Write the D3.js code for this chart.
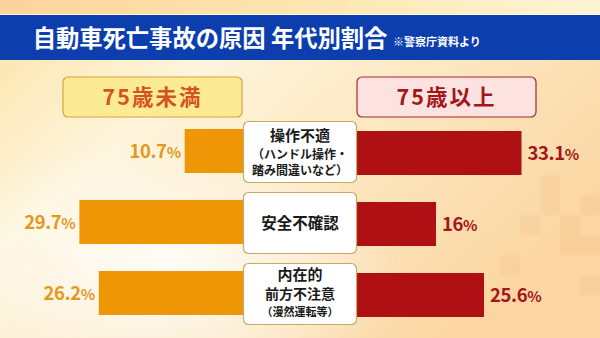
<!DOCTYPE html>
<html><head><meta charset="utf-8">
<script src="https://cdn.jsdelivr.net/npm/d3@7"></script>
<style>html,body{margin:0;padding:0;overflow:hidden;background:#fdeccb}</style>
</head><body>
<script>
const title = "自動車死亡事故の原因 年代別割合";
const source = "※警察庁資料より";
const groups = ["75歳未満", "75歳以上"];
const categories = [
  ["操作不適", "（ハンドル操作・", "踏み間違いなど）"],
  ["安全不確認"],
  ["内在的", "前方不注意", "（漫然運転等）"]
];
const under75 = [10.7, 29.7, 26.2];
const over75 = [33.1, 16, 25.6];
const under75Labels = ["10.7", "29.7", "26.2"];
const over75Labels = ["33.1", "16", "25.6"];

const W = 600, H = 338;
const svg = d3.select("body").append("svg").attr("width", W).attr("height", H);
const defs = svg.append("defs");
const FONT = "'Noto Sans CJK JP','Noto Sans',sans-serif";

// background
const bg = defs.append("linearGradient").attr("id","bg").attr("x1","0").attr("y1","0").attr("x2","1").attr("y2","0.6");
bg.append("stop").attr("offset","0").attr("stop-color","#fbe3a6");
bg.append("stop").attr("offset","0.33").attr("stop-color","#fef5dc");
bg.append("stop").attr("offset","0.6").attr("stop-color","#fce9c4");
bg.append("stop").attr("offset","1").attr("stop-color","#fbd6a2");
svg.append("rect").attr("width",W).attr("height",H).attr("fill","url(#bg)");
const rg = defs.append("radialGradient").attr("id","glow").attr("cx","0.28").attr("cy","0.8").attr("r","0.4");
rg.append("stop").attr("offset","0").attr("stop-color","#ffffff").attr("stop-opacity",0.9);
rg.append("stop").attr("offset","1").attr("stop-color","#ffffff").attr("stop-opacity",0);
svg.append("rect").attr("width",W).attr("height",H).attr("fill","url(#glow)");
// top strip
const tg = defs.append("linearGradient").attr("id","top").attr("x1","0").attr("x2","1");
tg.append("stop").attr("offset","0").attr("stop-color","#fdd29c");
tg.append("stop").attr("offset","0.5").attr("stop-color","#fde6b0");
tg.append("stop").attr("offset","1").attr("stop-color","#fef4d4");
svg.append("rect").attr("width",W).attr("height",15).attr("fill","url(#top)");
// faint checker at bottom right
const chk = svg.append("g").attr("opacity",0.09);
[[540,195],[560,215],[520,215],[580,195],[560,235],[540,175],[580,235],[500,255],[580,275]].forEach(([x,y])=>{
  chk.append("rect").attr("x",x).attr("y",y).attr("width",20).attr("height",20).attr("fill","#f0a060");
});

// title bar
svg.append("rect").attr("x",0).attr("y",14).attr("width",W).attr("height",1.5).attr("fill","#ffffff").attr("opacity",0.8);
svg.append("rect").attr("x",0).attr("y",15).attr("width",W).attr("height",45).attr("fill","#0c3eae");
svg.append("text").attr("x",210).attr("y",46.5).attr("text-anchor","middle")
  .attr("font-family",FONT).attr("font-weight",700).attr("font-size",23.3).attr("fill","#fff").text(title);
svg.append("text").attr("x",393).attr("y",46).attr("font-family",FONT).attr("font-weight",700)
  .attr("font-size",11).attr("fill","#fff").text(source);

// headers
const headers = [
  {x:63, fill:"#fdea94", stroke:"#d9a23a", color:"#d6531e", text:groups[0]},
  {x:357, fill:"#fce3e1", stroke:"#a8282a", color:"#a3161a", text:groups[1]}
];
headers.forEach(h=>{
  svg.append("rect").attr("x",h.x).attr("y",77).attr("width",179).attr("height",40).attr("rx",5)
    .attr("fill",h.fill).attr("stroke",h.stroke).attr("stroke-width",1.2);
  svg.append("text").attr("x",h.x+89.5).attr("y",105).attr("text-anchor","middle")
    .attr("font-family",FONT).attr("font-weight",700).attr("font-size",21.5).attr("letter-spacing",2)
    .attr("fill",h.color).text(h.text);
});

// scales
const y = d3.scaleBand().domain(d3.range(categories.length)).range([121.9, 322.1]).paddingInner(0.38).paddingOuter(0.1);
const leftOrigin = 244, rightOrigin = 356;
const xL = d3.scaleLinear().domain([0, 35]).range([0, 194]);
const xR = d3.scaleLinear().domain([0, 35]).range([0, 175]);

const ORANGE = "#ef9607", RED = "#ae1013";
// left bars
svg.selectAll(".lb").data(under75).enter().append("rect")
  .attr("x", d => leftOrigin - xL(d)).attr("y", (d,i)=>y(i)).attr("width", d => xL(d) + 8).attr("height", y.bandwidth())
  .attr("fill", ORANGE);
// right bars
svg.selectAll(".rb").data(over75).enter().append("rect")
  .attr("x", rightOrigin - 8).attr("y", (d,i)=>y(i)+2).attr("width", d => xR(d) + 8).attr("height", y.bandwidth())
  .attr("fill", RED);

// value labels
function valLabel(x, yy, anchor, num, color){
  const t = svg.append("text").attr("x",x).attr("y",yy).attr("text-anchor",anchor)
    .attr("font-family",FONT).attr("font-weight",700).attr("fill",color).attr("letter-spacing",-0.4);
  t.append("tspan").attr("font-size",18.5).text(num);
  t.append("tspan").attr("font-size",15).text("%");
}
under75.forEach((d,i)=>{
  valLabel(leftOrigin - xL(d) - 4, y(i)+y.bandwidth()/2+7, "end", under75Labels[i], "#e8961c");
});
over75.forEach((d,i)=>{
  valLabel(rightOrigin + xR(d) + 6, y(i)+2+y.bandwidth()/2+7, "start", over75Labels[i], "#a3161a");
});

// category boxes
categories.forEach((lines,i)=>{
  const cy = y(i) + y.bandwidth()/2 + 1;
  svg.append("rect").attr("x",243.5).attr("y",cy-30.5).attr("width",113).attr("height",61).attr("rx",5)
    .attr("fill","#fff").attr("stroke","#c9a86a").attr("stroke-width",1.2);
  let rows;
  if (lines.length === 1) rows = [{t:lines[0], s:15.5, dy:5.5}];
  else if (i === 0) rows = [{t:lines[0], s:15, dy:-11}, {t:lines[1], s:12, dy:6.5}, {t:lines[2], s:12, dy:22.5}];
  else rows = [{t:lines[0], s:15, dy:-13.5}, {t:lines[1], s:14, dy:5.5}, {t:lines[2], s:11, dy:22.5}];
  rows.forEach(r=>{
    svg.append("text").attr("x",300).attr("y",cy + r.dy).attr("text-anchor","middle")
      .attr("font-family",FONT).attr("font-weight",700).attr("font-size",r.s).attr("fill","#1a1a1a").text(r.t);
  });
});
</script>
</body></html>
